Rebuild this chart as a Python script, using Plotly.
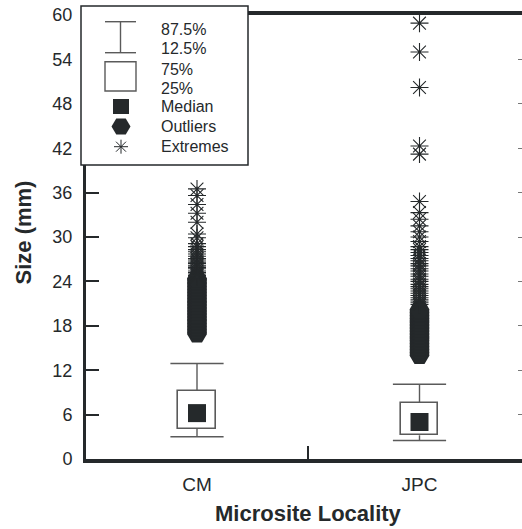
import plotly.graph_objects as go

# ---------------- data ----------------
categories = ["CM", "JPC"]
p12_5 = [3.0, 2.5]
q1 = [4.1, 3.2]
median = [6.2, 5.0]
q3 = [9.2, 7.6]
p87_5 = [12.9, 10.1]

cm_outliers = [16.9, 17.1, 17.3, 17.5, 17.7, 17.9, 18.1, 18.3, 18.5, 18.7, 18.9, 19.1,
               19.3, 19.5, 19.7, 19.9, 20.1, 20.3, 20.5, 20.7, 20.9, 21.1, 21.3, 21.5,
               21.7, 21.9, 22.1, 22.3, 22.5, 22.7, 22.9, 23.1, 23.3, 23.5, 23.7, 23.9,
               24.1, 24.3, 24.4]
cm_extremes = [36.5, 35.6, 34.4, 33.2, 32.0, 30.4, 29.9, 29.1, 28.7, 28.3, 28.0, 27.7,
               27.4, 27.1, 26.9, 26.6, 26.4, 26.1, 25.9, 25.7, 25.4, 25.2, 25.0, 24.8,
               24.6]
jpc_outliers = [14.0, 14.2, 14.4, 14.6, 14.8, 15.0, 15.2, 15.4, 15.6, 15.8, 16.0, 16.2,
                16.4, 16.6, 16.8, 17.0, 17.2, 17.4, 17.6, 17.8, 18.0, 18.2, 18.4, 18.6,
                18.8, 19.0, 19.2, 19.4, 19.6, 19.8, 20.0, 20.2]
jpc_extremes = [58.9, 55.0, 50.2, 42.3, 41.2, 34.8, 33.3, 32.4, 31.5, 30.7, 30.0, 29.4,
                28.7, 28.3, 27.9, 27.5, 27.1, 26.8, 26.4, 26.1, 25.7, 25.4, 25.0, 24.7,
                24.3, 24.0, 23.6, 23.3, 23.0, 22.7, 22.4, 22.1, 21.8, 21.5, 21.2, 20.9]

y_ticks = [0, 6, 12, 18, 24, 30, 36, 42, 48, 54, 60]
legend_labels = ["87.5%", "12.5%", "75%", "25%", "Median", "Outliers", "Extremes"]

# ---------------- style ----------------
DARK = "#25292b"
GRAY = "#5a5a5a"
FONT = "Arial, Liberation Sans, sans-serif"
W, H = 522, 529
L, R, T, B = 86, 522, 15, 459
xpos = [0, 1]
BOXW = 0.17

def fx(px):
    return (px - L) / (R - L)

def fy(py):
    return (B - py) / (B - T)

fig = go.Figure()

# boxes (25%-75%)
fig.add_trace(go.Bar(
    x=xpos, y=[b - a for a, b in zip(q1, q3)], base=q1, width=BOXW,
    marker=dict(color="white", line=dict(color=GRAY, width=1.6)),
    hoverinfo="skip", showlegend=False))

# whiskers
for i, c in enumerate(xpos):
    fig.add_trace(go.Scatter(
        x=[c, c, None, c, c], y=[q3[i], p87_5[i], None, p12_5[i], q1[i]],
        mode="lines", line=dict(color=GRAY, width=1.4),
        hoverinfo="skip", showlegend=False))
    fig.add_trace(go.Scatter(
        x=[c, c], y=[p87_5[i], p12_5[i]], mode="markers",
        marker=dict(symbol="line-ew-open", size=38, color=GRAY,
                    line=dict(color=GRAY, width=1.6)),
        hoverinfo="skip", showlegend=False))

# outliers
for c, vals in zip(xpos, [cm_outliers, jpc_outliers]):
    fig.add_trace(go.Scatter(
        x=[c] * len(vals), y=vals, mode="markers",
        marker=dict(symbol="hexagon2", size=20, color=DARK, line=dict(width=0)),
        hoverinfo="skip", showlegend=False))

# extremes
for c, vals in zip(xpos, [cm_extremes, jpc_extremes]):
    fig.add_trace(go.Scatter(
        x=[c] * len(vals), y=vals, mode="markers",
        marker=dict(symbol="asterisk-open", size=15, color=DARK,
                    line=dict(color=DARK, width=1.1)),
        hoverinfo="skip", showlegend=False))

# medians
fig.add_trace(go.Scatter(
    x=xpos, y=median, mode="markers",
    marker=dict(symbol="square", size=18, color=DARK, line=dict(width=0)),
    hoverinfo="skip", showlegend=False))

# invisible trace for right-side tick axis
fig.add_trace(go.Scatter(x=[0], y=[0], yaxis="y2", mode="markers",
                         marker=dict(opacity=0), hoverinfo="skip", showlegend=False))

# ---------------- legend box (drawn) ----------------
shapes = []
shapes.append(dict(type="rect", xref="paper", yref="paper", layer="above",
                   x0=fx(81), x1=fx(248), y0=fy(165), y1=fy(6),
                   fillcolor="white", line=dict(color=DARK, width=1.5)))
# whisker symbol
for yy in (21.7, 52.7):
    shapes.append(dict(type="line", xref="paper", yref="paper", layer="above",
                       x0=fx(105), x1=fx(136), y0=fy(yy), y1=fy(yy),
                       line=dict(color=GRAY, width=1.4)))
shapes.append(dict(type="line", xref="paper", yref="paper", layer="above",
                   x0=fx(120.5), x1=fx(120.5), y0=fy(21.7), y1=fy(52.7),
                   line=dict(color=GRAY, width=1.4)))
# box symbol
shapes.append(dict(type="rect", xref="paper", yref="paper", layer="above",
                   x0=fx(105), x1=fx(136), y0=fy(91), y1=fy(61.7),
                   fillcolor="white", line=dict(color=GRAY, width=1.4)))
# median symbol
shapes.append(dict(type="rect", xref="paper", yref="paper", layer="above",
                   x0=fx(113), x1=fx(129), y0=fy(114), y1=fy(99),
                   fillcolor=DARK, line=dict(width=0)))
# hexagon symbol
cx, cy = 121, 126.5
pts = [(cx - 9.5, cy), (cx - 4.75, cy - 8), (cx + 4.75, cy - 8),
       (cx + 9.5, cy), (cx + 4.75, cy + 8), (cx - 4.75, cy + 8)]
path = "M " + " L ".join(f"{fx(px):.5f},{fy(py):.5f}" for px, py in pts) + " Z"
shapes.append(dict(type="path", xref="paper", yref="paper", layer="above",
                   path=path, fillcolor=DARK, line=dict(width=0)))
# asterisk symbol
ax, ay, r, rd = 121, 146.7, 7, 5
segs = [((ax, ay - r), (ax, ay + r)), ((ax - r, ay), (ax + r, ay)),
        ((ax - rd, ay - rd), (ax + rd, ay + rd)), ((ax - rd, ay + rd), (ax + rd, ay - rd))]
for (x0, y0), (x1, y1) in segs:
    shapes.append(dict(type="line", xref="paper", yref="paper", layer="above",
                       x0=fx(x0), x1=fx(x1), y0=fy(y0), y1=fy(y1),
                       line=dict(color=DARK, width=1)))

annotations = []
for lbl, yy in zip(legend_labels, [29, 48.3, 69, 88.3, 106.7, 126.7, 146.7]):
    annotations.append(dict(text=lbl, x=fx(159), y=fy(yy), xref="paper", yref="paper",
                            xanchor="left", yanchor="middle", showarrow=False,
                            font=dict(family=FONT, size=16, color=DARK)))
annotations.append(dict(text="<b>Microsite Locality</b>", x=fx(308.5), y=fy(513),
                        xref="paper", yref="paper", xanchor="center", yanchor="middle",
                        showarrow=False, font=dict(family=FONT, size=22, color=DARK)))
annotations.append(dict(text="<b>Size (mm)</b>", x=fx(22.5), y=fy(233),
                        xref="paper", yref="paper", xanchor="center", yanchor="middle",
                        textangle=-90, showarrow=False,
                        font=dict(family=FONT, size=22, color=DARK)))

fig.update_layout(
    width=W, height=H,
    margin=dict(l=L, r=W - R, t=T, b=H - B, pad=0),
    paper_bgcolor="white", plot_bgcolor="white",
    font=dict(family=FONT, color=DARK),
    showlegend=False,
    shapes=shapes, annotations=annotations,
    bargap=0,
    xaxis=dict(range=[-0.4989, 1.4607], tickvals=xpos, ticktext=categories,
               ticks="", showgrid=False, zeroline=False,
               showline=True, linewidth=4, linecolor=DARK, mirror=True,
               tickfont=dict(family=FONT, size=19, color=DARK),
               ticklabelstandoff=5,
               minor=dict(tickvals=[0.5], ticks="inside", ticklen=13,
                          tickwidth=1.5, tickcolor=DARK, showgrid=False)),
    yaxis=dict(range=[0, 60], tickvals=y_ticks, ticks="inside", ticklen=13,
               tickwidth=1.5, tickcolor=DARK, showgrid=False, zeroline=False,
               showline=True, linewidth=3, linecolor=DARK, mirror=False,
               tickfont=dict(family=FONT, size=18, color=DARK),
               ticklabelstandoff=7),
    yaxis2=dict(range=[0, 60], tickvals=y_ticks, overlaying="y", side="right",
                ticks="inside", ticklen=4, tickwidth=1.2, tickcolor="#777777",
                showticklabels=False, showgrid=False, zeroline=False, showline=False),
)

fig.write_html("out.html")
